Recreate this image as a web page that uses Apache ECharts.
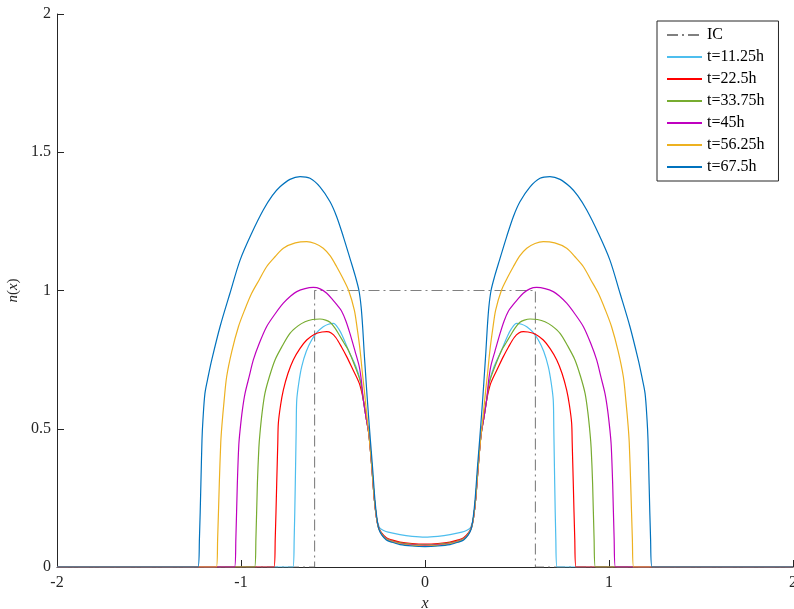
<!DOCTYPE html>
<html>
<head>
<meta charset="utf-8">
<script src="https://cdn.jsdelivr.net/npm/echarts@6/dist/echarts.min.js"></script>
<style>
html,body{margin:0;padding:0;background:#fff;}
#chart{width:794px;height:609px;}
</style>
</head>
<body>
<div id="chart"></div>
<script>
// Legend labels
const seriesNames = ['IC', 't=11.25h', 't=22.5h', 't=33.75h', 't=45h', 't=56.25h', 't=67.5h'];
const xTicks = [-2, -1, 0, 1, 2];
const yTicks = [0, 0.5, 1, 1.5, 2];

// Initial condition (step)
const icData = [[-2,0],[-0.6,0],[-0.6,1],[0.6,1],[0.6,0],[2,0]];

// Left halves (x from -2 to 0); the profiles are symmetric about x=0
const t1125Left = [[-2,0],[-0.718,0],[-0.711,0.1],[-0.705,0.3],[-0.7,0.5],[-0.697,0.604],[-0.685,0.67],[-0.67,0.725],[-0.645,0.78],[-0.616,0.821],[-0.585,0.85],[-0.553,0.869],[-0.525,0.878],[-0.498,0.881],[-0.47,0.862],[-0.445,0.83],[-0.417,0.785],[-0.375,0.724],[-0.35,0.67],[-0.335,0.604],[-0.32,0.54],[-0.305,0.48],[-0.29,0.37],[-0.276,0.25],[-0.264,0.18],[-0.252,0.15],[-0.245,0.14],[-0.225,0.132],[-0.2,0.126],[-0.136,0.117],[-0.07,0.111],[0,0.108]];
const t225Left = [[-2,0],[-0.821,0],[-0.814,0.1],[-0.806,0.3],[-0.8,0.45],[-0.797,0.52],[-0.785,0.585],[-0.77,0.64],[-0.745,0.7],[-0.716,0.749],[-0.68,0.79],[-0.643,0.821],[-0.6,0.842],[-0.56,0.85],[-0.534,0.851],[-0.51,0.846],[-0.485,0.83],[-0.453,0.795],[-0.425,0.76],[-0.399,0.724],[-0.357,0.664],[-0.335,0.604],[-0.32,0.54],[-0.305,0.48],[-0.29,0.37],[-0.276,0.25],[-0.264,0.18],[-0.254,0.148],[-0.237,0.124],[-0.21,0.106],[-0.181,0.098],[-0.136,0.09],[-0.07,0.085],[0,0.083]];
const t3375Left = [[-2,0],[-0.926,0],[-0.919,0.1],[-0.911,0.3],[-0.903,0.43],[-0.897,0.483],[-0.885,0.56],[-0.87,0.628],[-0.845,0.69],[-0.815,0.749],[-0.775,0.8],[-0.734,0.845],[-0.69,0.872],[-0.652,0.887],[-0.611,0.895],[-0.571,0.897],[-0.54,0.893],[-0.516,0.885],[-0.49,0.865],[-0.465,0.838],[-0.44,0.81],[-0.417,0.785],[-0.38,0.725],[-0.35,0.668],[-0.335,0.604],[-0.32,0.54],[-0.305,0.48],[-0.29,0.37],[-0.276,0.25],[-0.264,0.18],[-0.254,0.146],[-0.237,0.122],[-0.21,0.103],[-0.181,0.095],[-0.136,0.087],[-0.07,0.082],[0,0.08]];
const t45Left = [[-2,0],[-1.035,0],[-1.028,0.1],[-1.02,0.3],[-1.012,0.44],[-1.005,0.495],[-0.992,0.57],[-0.978,0.628],[-0.955,0.69],[-0.933,0.749],[-0.9,0.81],[-0.861,0.869],[-0.815,0.915],[-0.77,0.954],[-0.73,0.98],[-0.697,0.996],[-0.652,1.007],[-0.607,1.011],[-0.57,1.006],[-0.534,0.99],[-0.5,0.965],[-0.475,0.945],[-0.453,0.925],[-0.43,0.89],[-0.408,0.845],[-0.38,0.78],[-0.357,0.724],[-0.345,0.67],[-0.335,0.604],[-0.32,0.54],[-0.305,0.48],[-0.29,0.37],[-0.276,0.25],[-0.264,0.18],[-0.254,0.145],[-0.237,0.12],[-0.21,0.101],[-0.181,0.093],[-0.136,0.085],[-0.07,0.08],[0,0.078]];
const t5625Left = [[-2,0],[-1.134,0],[-1.127,0.1],[-1.118,0.3],[-1.11,0.45],[-1.104,0.51],[-1.092,0.6],[-1.078,0.688],[-1.05,0.78],[-1.014,0.869],[-0.98,0.93],[-0.942,0.99],[-0.9,1.04],[-0.861,1.086],[-0.815,1.122],[-0.77,1.153],[-0.705,1.172],[-0.643,1.177],[-0.598,1.17],[-0.553,1.153],[-0.515,1.125],[-0.48,1.086],[-0.447,1.045],[-0.415,1.0],[-0.384,0.929],[-0.368,0.86],[-0.353,0.785],[-0.34,0.7],[-0.33,0.64],[-0.318,0.56],[-0.305,0.48],[-0.29,0.37],[-0.276,0.25],[-0.264,0.18],[-0.253,0.142],[-0.235,0.118],[-0.21,0.1],[-0.181,0.092],[-0.136,0.084],[-0.07,0.078],[0,0.076]];
const t675Left = [[-2,0],[-1.234,0],[-1.226,0.1],[-1.218,0.3],[-1.212,0.46],[-1.207,0.53],[-1.196,0.628],[-1.178,0.69],[-1.159,0.749],[-1.114,0.869],[-1.06,0.99],[-1.005,1.11],[-0.942,1.207],[-0.879,1.291],[-0.83,1.343],[-0.788,1.375],[-0.734,1.402],[-0.679,1.412],[-0.625,1.406],[-0.571,1.375],[-0.516,1.321],[-0.48,1.267],[-0.444,1.195],[-0.405,1.11],[-0.378,1.05],[-0.359,1.0],[-0.347,0.94],[-0.338,0.86],[-0.331,0.78],[-0.325,0.72],[-0.315,0.62],[-0.305,0.53],[-0.297,0.46],[-0.285,0.36],[-0.272,0.242],[-0.262,0.18],[-0.252,0.14],[-0.235,0.116],[-0.21,0.098],[-0.181,0.09],[-0.136,0.081],[-0.07,0.076],[0,0.074]];

const colors = ['#808080', '#4DBEEE', '#FF0000', '#77AC30', '#BF00BF', '#EDB120', '#0072BD'];

function mirror(left) {
  const right = left.slice(0, -1).reverse().map(p => [-p[0], p[1]]);
  return left.concat(right);
}

const curveData = [icData, mirror(t1125Left), mirror(t225Left), mirror(t3375Left), mirror(t45Left), mirror(t5625Left), mirror(t675Left)];

const FONT = 'Liberation Serif';
const axisColor = '#262626';

const series = seriesNames.map((name, i) => ({
  name: name,
  type: 'line',
  data: curveData[i],
  symbol: 'none',
  showSymbol: false,
  smooth: i === 0 ? false : 0.3,
  animation: false,
  clip: true,
  z: 2 + i,
  color: colors[i],
  lineStyle: {
    color: colors[i],
    width: i === 0 ? 1.1 : 1.2,
    type: i === 0 ? [11, 4, 2, 4] : 'solid'
  }
}));

const chart = echarts.init(document.getElementById('chart'), null, {renderer: 'canvas'});
chart.setOption({
  backgroundColor: '#ffffff',
  animation: false,
  grid: {left: 57, right: 1, top: 14, bottom: 42, containLabel: false, outerBoundsMode: 'none'},
  xAxis: {
    type: 'value', min: xTicks[0], max: xTicks[xTicks.length - 1], interval: 1,
    axisLine: {show: true, onZero: false, lineStyle: {color: axisColor, width: 1}},
    axisTick: {show: true, inside: true, length: 7, lineStyle: {color: axisColor, width: 1}},
    splitLine: {show: false},
    axisLabel: {color: axisColor, fontFamily: FONT, fontSize: 16, margin: 8},
    name: 'x', nameLocation: 'middle', nameGap: 29,
    nameTextStyle: {color: axisColor, fontFamily: FONT, fontSize: 16, fontStyle: 'italic'}
  },
  yAxis: {
    type: 'value', min: yTicks[0], max: yTicks[yTicks.length - 1], interval: 0.5,
    axisLine: {show: true, onZero: false, lineStyle: {color: axisColor, width: 1}},
    axisTick: {show: true, inside: true, length: 7, lineStyle: {color: axisColor, width: 1}},
    splitLine: {show: false},
    axisLabel: {color: axisColor, fontFamily: FONT, fontSize: 16, margin: 6},
    name: '{i|n}({i|x})', nameLocation: 'middle', nameGap: 33,
    nameTextStyle: {color: axisColor, fontFamily: FONT, fontSize: 15,
      rich: {i: {fontFamily: FONT, fontSize: 15, fontStyle: 'italic', color: axisColor}}}
  },
  legend: {
    orient: 'vertical', left: 657, top: 21,
    backgroundColor: '#ffffff', borderColor: axisColor, borderWidth: 1, borderRadius: 0,
    padding: [6, 14, 6, 9],
    itemWidth: 35, itemHeight: 14, itemGap: 6,
    itemStyle: {opacity: 0},
    textStyle: {color: '#000', fontFamily: FONT, fontSize: 16, lineHeight: 14},
    data: seriesNames
  },
  series: series
});
</script>
</body>
</html>
